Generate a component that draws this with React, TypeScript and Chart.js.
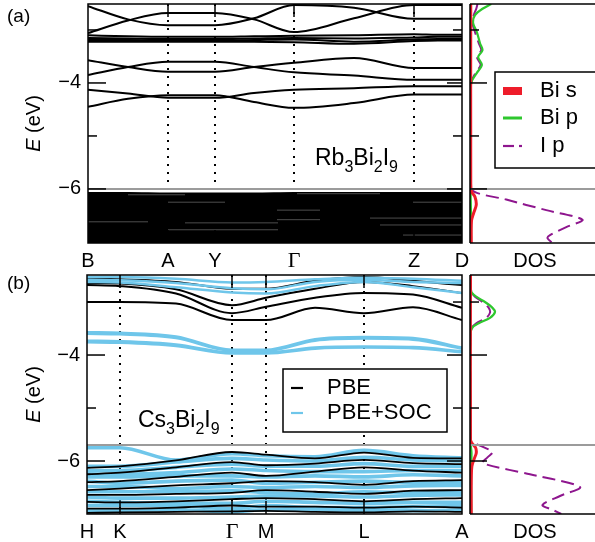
import React, { useEffect, useRef } from "react";
import { Chart, registerables } from "chart.js";

Chart.register(...registerables);

const CW = 595;
const CH = 542;
const SANS = '"Liberation Sans", Arial, Helvetica, sans-serif';
const SERIF = '"Liberation Serif", "Times New Roman", serif';

const BLACK = "#000000";
const SOC_BLUE = "#6fc6ea";
const BI_S_RED = "#ee1c2a";
const BI_P_GREEN = "#2ec72e";
const I_P_PURPLE = "#8e168e";
const GRAY = "#9b9b9b";

// ---------------- shared axis text ----------------
const eMajorTicks = [-4, -6];
const eMajorLabels = ["−4", "−6"];
const eMinorTicks = [-3, -5];
const eAxisTitle = ["E", " (eV)"];
const dosAxisLabel = "DOS";
const dosLegendLabels = ["Bi s", "Bi p", "I p"];
const bandLegendLabels = ["PBE", "PBE+SOC"];

// ---------------- (a) Rb3Bi2I9 ----------------
const topPanelLabel = "(a)";
const topCompound: [string, boolean][] = [["Rb", false], ["3", true], ["Bi", false], ["2", true], ["I", false], ["9", true]];
const topERange = [-7.02, -2.51];
const topKLabels = ["B", "A", "Y", "Γ", "Z", "D"];
const topKTicks = [0, 80, 127, 206, 326, 374];
const topKGrid = [0, 40, 80, 103, 127, 166, 206, 266, 326, 350, 374];
const topGapE = -6.0;

const topBand1 = [-2.55, -2.80, -2.91, -2.91, -2.91, -2.78, -2.53, -2.58, -2.79, -2.79, -2.79];
const topBand2 = [-3.06, -2.82, -2.68, -2.68, -2.68, -2.80, -3.04, -2.78, -2.53, -2.53, -2.53];
const topBand3 = [-3.10, -3.12, -3.13, -3.13, -3.13, -3.12, -3.11, -3.10, -3.08, -3.09, -3.09];
const topBand4 = [-3.15, -3.16, -3.17, -3.17, -3.17, -3.16, -3.15, -3.16, -3.14, -3.13, -3.13];
const topBand5 = [-3.19, -3.19, -3.20, -3.20, -3.20, -3.19, -3.18, -3.22, -3.18, -3.17, -3.17];
const topBand6 = [-3.22, -3.22, -3.22, -3.22, -3.22, -3.22, -3.23, -3.26, -3.21, -3.20, -3.20];
const topBand7 = [-3.57, -3.70, -3.79, -3.79, -3.79, -3.70, -3.62, -3.53, -3.72, -3.72, -3.72];
const topBand8 = [-3.85, -3.70, -3.60, -3.60, -3.60, -3.70, -3.80, -3.86, -3.94, -3.94, -3.94];
const topBand9 = [-4.13, -4.20, -4.28, -4.28, -4.28, -4.19, -4.13, -4.10, -4.06, -4.06, -4.06];
const topBand10 = [-4.45, -4.30, -4.23, -4.23, -4.23, -4.36, -4.47, -4.38, -4.22, -4.22, -4.22];
const topValenceTop = [-6.07, -6.07, -6.08, -6.08, -6.08, -6.08, -6.07, -6.07, -6.07, -6.07, -6.07];
// light gaps inside the dense valence manifold: [k start, k end, E]
const topValenceGaps: [number, number, number][] = [
  [40, 97, -6.11], [80, 137, -6.25], [0, 60, -6.62], [97, 190, -6.64], [80, 190, -6.77],
  [209, 292, -6.09], [325, 374, -6.25], [189, 232, -6.40], [189, 232, -6.58],
  [282, 374, -6.55], [292, 374, -6.68], [315, 374, -6.87],
];

// DOS (a)
const topBiSE = [-2.51, -5.9, -6.05, -6.15, -6.3, -6.45, -6.6, -7.02];
const topBiS = [0.006, 0.006, 0.012, 0.04, 0.05, 0.03, 0.012, 0.01];
const topBiPE = [-2.51, -2.6, -2.72, -2.87, -3.04, -3.25, -3.38, -3.51, -3.66, -3.81, -3.98, -4.2, -5.5, -6.0, -6.5, -7.02];
const topBiP = [0.17, 0.10, 0.04, 0.025, 0.055, 0.08, 0.10, 0.065, 0.095, 0.055, 0.012, 0.004, 0.003, 0.004, 0.008, 0.008];
const topIPE = [-2.51, -2.6, -2.72, -2.87, -3.04, -3.25, -3.38, -3.51, -3.66, -3.81, -3.98, -4.2, -5.5, -6.0, -6.2, -6.4, -6.58, -6.72, -6.87, -6.93, -7.02];
const topIP = [0.06, 0.05, 0.03, 0.02, 0.04, 0.07, 0.09, 0.055, 0.085, 0.045, 0.01, 0.003, 0.002, 0.003, 0.29, 0.61, 0.90, 0.77, 0.64, 0.62, 0.66];

// ---------------- (b) Cs3Bi2I9 ----------------
const botPanelLabel = "(b)";
const botCompound: [string, boolean][] = [["Cs", false], ["3", true], ["Bi", false], ["2", true], ["I", false], ["9", true]];
const botERange = [-7.0, -2.49];
const botKLabels = ["H", "K", "Γ", "M", "L", "A"];
const botKTicks = [0, 33, 145, 179, 277, 375];
const botKGrid = [0, 33, 89, 145, 179, 228, 277, 326, 375];
const botGapE = -5.7;

// PBE (black)
const pbeC1 = [-3.00, -3.00, -3.03, -3.34, -3.34, -3.11, -3.21, -3.10, -3.34];
const pbeC2 = [-2.68, -2.70, -2.84, -3.21, -3.09, -2.92, -2.83, -2.86, -3.11];
const pbeC3 = [-2.64, -2.65, -2.76, -3.06, -2.92, -2.75, -2.62, -2.70, -2.83];
const pbeC4 = [-2.56, -2.57, -2.62, -2.75, -2.75, -2.60, -2.53, -2.60, -2.68];
const pbeV1 = [-6.13, -6.10, -5.99, -5.83, -5.88, -5.95, -5.84, -5.94, -5.95];
const pbeV2 = [-6.25, -6.22, -6.12, -6.02, -6.08, -6.05, -5.98, -6.04, -6.06];
const pbeV3 = [-6.40, -6.38, -6.30, -6.22, -6.28, -6.20, -6.12, -6.18, -6.22];
const pbeV4 = [-6.55, -6.52, -6.46, -6.42, -6.38, -6.40, -6.45, -6.38, -6.36];
const pbeV5 = [-6.64, -6.64, -6.62, -6.60, -6.55, -6.58, -6.62, -6.56, -6.55];
const pbeV6 = [-6.77, -6.78, -6.76, -6.72, -6.70, -6.72, -6.76, -6.72, -6.70];
const pbeV7 = [-6.90, -6.90, -6.88, -6.84, -6.86, -6.86, -6.88, -6.86, -6.88];
const pbeV8 = [-6.98, -6.97, -6.96, -6.95, -6.94, -6.96, -6.97, -6.95, -6.96];

// PBE+SOC (blue)
const socC1 = [-3.57, -3.58, -3.65, -3.90, -3.90, -3.70, -3.66, -3.68, -3.86];
const socC2 = [-3.60, -3.61, -3.68, -3.92, -3.92, -3.73, -3.69, -3.71, -3.88];
const socC3 = [-3.73, -3.74, -3.80, -3.95, -3.95, -3.86, -3.84, -3.85, -3.93];
const socC4 = [-3.76, -3.77, -3.83, -3.97, -3.97, -3.88, -3.86, -3.87, -3.95];
const socC5 = [-2.53, -2.53, -2.56, -2.63, -2.62, -2.57, -2.54, -2.56, -2.60];
const socC6 = [-2.58, -2.59, -2.64, -2.74, -2.76, -2.62, -2.58, -2.62, -2.64];
const socC7 = [-2.62, -2.63, -2.72, -2.82, -2.84, -2.70, -2.62, -2.72, -2.83];
const socV1 = [-5.75, -5.75, -5.98, -5.86, -5.90, -5.92, -5.80, -5.90, -5.94];
const socV2 = [-6.10, -6.10, -6.02, -5.95, -5.98, -6.00, -5.93, -5.98, -6.00];
const socV3 = [-6.18, -6.18, -6.12, -6.06, -6.10, -6.10, -6.05, -6.10, -6.10];
const socV4 = [-6.24, -6.25, -6.22, -6.15, -6.18, -6.20, -6.20, -6.18, -6.18];
const socV5 = [-6.30, -6.30, -6.28, -6.28, -6.30, -6.28, -6.30, -6.26, -6.28];
const socV6 = [-6.38, -6.42, -6.38, -6.36, -6.42, -6.40, -6.38, -6.40, -6.40];
const socV7 = [-6.48, -6.48, -6.52, -6.48, -6.50, -6.48, -6.50, -6.47, -6.46];
const socV8 = [-6.58, -6.58, -6.58, -6.56, -6.60, -6.62, -6.58, -6.60, -6.60];
const socV9 = [-6.68, -6.70, -6.70, -6.68, -6.66, -6.66, -6.68, -6.65, -6.64];
const socV10 = [-6.76, -6.78, -6.80, -6.80, -6.76, -6.78, -6.80, -6.78, -6.78];
const socV11 = [-6.84, -6.84, -6.84, -6.90, -6.84, -6.88, -6.88, -6.86, -6.84];
const socV12 = [-6.94, -6.93, -6.92, -6.96, -6.92, -6.92, -6.94, -6.94, -6.92];

// DOS (b)
const botBiSE = [-2.49, -5.6, -5.66, -5.75, -5.85, -5.95, -6.1, -6.4, -7.0];
const botBiS = [0.004, 0.004, 0.015, 0.045, 0.05, 0.035, 0.015, 0.01, 0.01];
const botBiPE = [-2.49, -2.8, -2.9, -3.0, -3.11, -3.19, -3.30, -3.40, -3.48, -3.6, -5.0, -5.7, -5.85, -6.2, -7.0];
const botBiP = [0.004, 0.01, 0.05, 0.12, 0.18, 0.20, 0.16, 0.07, 0.02, 0.004, 0.003, 0.006, 0.012, 0.008, 0.01];
const botIPE = [-2.49, -2.8, -2.9, -3.0, -3.11, -3.2, -3.3, -3.4, -3.5, -3.6, -5.0, -5.6, -5.72, -5.83, -5.93, -6.04, -6.25, -6.49, -6.66, -6.83, -6.92, -7.0];
const botIP = [0.003, 0.01, 0.04, 0.10, 0.15, 0.16, 0.13, 0.05, 0.01, 0.003, 0.002, 0.004, 0.09, 0.18, 0.14, 0.10, 0.48, 0.88, 0.72, 0.58, 0.66, 0.73];

// ---------------- helpers ----------------
function bandDs(grid: number[], vals: number[], color: string, width: number, order: number, extra: any = {}) {
  return {
    data: grid.map((k, i) => ({ x: k, y: vals[i] })),
    borderColor: color,
    backgroundColor: color,
    borderWidth: width,
    pointRadius: 0,
    pointHoverRadius: 0,
    cubicInterpolationMode: "monotone",
    fill: false,
    order,
    ...extra,
  };
}

function dosDs(E: number[], D: number[], color: string, width: number, order: number, dash: number[] = []) {
  return {
    data: E.map((e, i) => ({ x: D[i], y: e })),
    borderColor: color,
    borderWidth: width,
    borderDash: dash,
    pointRadius: 0,
    pointHoverRadius: 0,
    tension: 0.3,
    fill: false,
    order,
  };
}

function seg(ctx: CanvasRenderingContext2D, x1: number, y1: number, x2: number, y2: number) {
  ctx.beginPath();
  ctx.moveTo(x1, y1);
  ctx.lineTo(x2, y2);
  ctx.stroke();
}

function drawCompound(ctx: CanvasRenderingContext2D, parts: [string, boolean][], x: number, baseline: number) {
  let cx = x;
  ctx.textAlign = "left";
  ctx.textBaseline = "alphabetic";
  ctx.fillStyle = BLACK;
  for (const [t, sub] of parts) {
    ctx.font = `${sub ? 16 : 23}px ${SANS}`;
    ctx.fillText(t, cx, sub ? baseline + 7 : baseline);
    cx += ctx.measureText(t).width;
  }
}

function baseOptions(padding: any, xMin: number, xMax: number, eRange: number[]) {
  return {
    animation: false,
    responsive: false,
    devicePixelRatio: 1,
    events: [],
    layout: { padding },
    scales: {
      x: { type: "linear", display: false, min: xMin, max: xMax },
      y: { type: "linear", display: false, min: eRange[0], max: eRange[1] },
    },
    plugins: { legend: { display: false }, tooltip: { enabled: false } },
  };
}

function bandDecor(cfg: {
  kTicks: number[]; kLabels: string[]; gapE: number; panelLabel: string; panelY: number;
  compound: [string, boolean][]; compoundX: number; compoundY: number; legend: boolean;
}) {
  return {
    id: "bandDecor",
    beforeDatasetsDraw(chart: any) {
      const { ctx, chartArea: a } = chart;
      const xs = chart.scales.x;
      ctx.save();
      ctx.strokeStyle = BLACK;
      ctx.lineWidth = 2;
      ctx.setLineDash([2, 6]);
      for (let i = 1; i < cfg.kTicks.length - 1; i++) {
        const px = Math.round(xs.getPixelForValue(cfg.kTicks[i]));
        seg(ctx, px, a.top, px, a.bottom);
      }
      ctx.restore();
    },
    afterDatasetsDraw(chart: any) {
      const { ctx, chartArea: a } = chart;
      const xs = chart.scales.x;
      const ys = chart.scales.y;
      ctx.save();
      ctx.setLineDash([]);
      const gy = ys.getPixelForValue(cfg.gapE);
      ctx.strokeStyle = GRAY;
      ctx.lineWidth = 2;
      seg(ctx, a.left, gy, a.right, gy);
      ctx.strokeStyle = BLACK;
      ctx.lineWidth = 1.5;
      ctx.strokeRect(a.left, a.top, a.right - a.left, a.bottom - a.top);
      for (const v of eMajorTicks) {
        const py = ys.getPixelForValue(v);
        seg(ctx, a.left, py, a.left + 18, py);
        seg(ctx, a.right - 15, py, a.right, py);
      }
      for (const v of eMinorTicks) {
        const py = ys.getPixelForValue(v);
        seg(ctx, a.left, py, a.left + 9, py);
        seg(ctx, a.right - 9, py, a.right, py);
      }
      for (let i = 1; i < cfg.kTicks.length - 1; i++) {
        const px = Math.round(xs.getPixelForValue(cfg.kTicks[i]));
        seg(ctx, px, a.top, px, a.top + 13);
        seg(ctx, px, a.bottom - 13, px, a.bottom);
      }
      ctx.fillStyle = BLACK;
      ctx.font = `20px ${SANS}`;
      ctx.textAlign = "right";
      ctx.textBaseline = "middle";
      eMajorTicks.forEach((v, i) => ctx.fillText(eMajorLabels[i], a.left - 7, ys.getPixelForValue(v)));
      ctx.textAlign = "center";
      cfg.kLabels.forEach((lab, i) => {
        ctx.font = lab === "Γ" ? `22px ${SERIF}` : `20px ${SANS}`;
        ctx.fillText(lab, xs.getPixelForValue(cfg.kTicks[i]), a.bottom + 18);
      });
      ctx.save();
      ctx.translate(34, (a.top + a.bottom) / 2);
      ctx.rotate(-Math.PI / 2);
      ctx.font = `italic 20px ${SANS}`;
      const w0 = ctx.measureText(eAxisTitle[0]).width;
      ctx.font = `20px ${SANS}`;
      const w1 = ctx.measureText(eAxisTitle[1]).width;
      ctx.textAlign = "left";
      ctx.textBaseline = "middle";
      ctx.font = `italic 20px ${SANS}`;
      ctx.fillText(eAxisTitle[0], -(w0 + w1) / 2, 0);
      ctx.font = `20px ${SANS}`;
      ctx.fillText(eAxisTitle[1], -(w0 + w1) / 2 + w0, 0);
      ctx.restore();
      ctx.font = `19px ${SANS}`;
      ctx.textAlign = "left";
      ctx.textBaseline = "middle";
      ctx.fillText(cfg.panelLabel, 7, cfg.panelY);
      drawCompound(ctx, cfg.compound, cfg.compoundX, cfg.compoundY);
      if (cfg.legend) {
        ctx.fillStyle = "#ffffff";
        ctx.fillRect(283, 369, 164, 63);
        ctx.strokeStyle = BLACK;
        ctx.lineWidth = 1.5;
        ctx.strokeRect(283, 369, 164, 63);
        const rows = [388, 413];
        const cols = [BLACK, SOC_BLUE];
        bandLegendLabels.forEach((lab, i) => {
          ctx.strokeStyle = cols[i];
          ctx.lineWidth = 2.2;
          seg(ctx, 291, rows[i], 303, rows[i]);
          ctx.fillStyle = BLACK;
          ctx.font = `22px ${SANS}`;
          ctx.textAlign = "left";
          ctx.textBaseline = "middle";
          ctx.fillText(lab, 327, rows[i]);
        });
      }
      ctx.restore();
    },
  };
}

function dosDecor(cfg: { gapE: number; legend: boolean }) {
  return {
    id: "dosDecor",
    afterDatasetsDraw(chart: any) {
      const { ctx, chartArea: a } = chart;
      const ys = chart.scales.y;
      ctx.save();
      ctx.setLineDash([]);
      const gy = ys.getPixelForValue(cfg.gapE);
      ctx.strokeStyle = GRAY;
      ctx.lineWidth = 2;
      seg(ctx, a.left, gy, a.right, gy);
      ctx.strokeStyle = BLACK;
      ctx.lineWidth = 1.5;
      seg(ctx, a.left, a.top, a.left, a.bottom);
      seg(ctx, a.left, a.top, a.right + 2, a.top);
      seg(ctx, a.left, a.bottom, a.right + 2, a.bottom);
      for (const v of eMajorTicks) {
        const py = ys.getPixelForValue(v);
        seg(ctx, a.left, py, a.left + 17, py);
      }
      for (const v of eMinorTicks) {
        const py = ys.getPixelForValue(v);
        seg(ctx, a.left, py, a.left + 9, py);
      }
      ctx.fillStyle = BLACK;
      ctx.font = `20px ${SANS}`;
      ctx.textAlign = "center";
      ctx.textBaseline = "middle";
      ctx.fillText(dosAxisLabel, 535, a.bottom + 18);
      if (cfg.legend) {
        ctx.fillStyle = "#ffffff";
        ctx.fillRect(495, 72, 110, 96);
        ctx.strokeStyle = BLACK;
        ctx.lineWidth = 1.5;
        ctx.strokeRect(495, 72, 110, 96);
        const rows = [91, 118, 146];
        ctx.fillStyle = BI_S_RED;
        ctx.fillRect(503, rows[0] - 4, 19, 8);
        ctx.strokeStyle = BI_P_GREEN;
        ctx.lineWidth = 3;
        seg(ctx, 503, rows[1], 522, rows[1]);
        ctx.strokeStyle = I_P_PURPLE;
        ctx.lineWidth = 2.2;
        seg(ctx, 503, rows[2], 514, rows[2]);
        seg(ctx, 519, rows[2], 522, rows[2]);
        ctx.fillStyle = BLACK;
        ctx.font = `22px ${SANS}`;
        ctx.textAlign = "left";
        ctx.textBaseline = "middle";
        dosLegendLabels.forEach((lab, i) => ctx.fillText(lab, 540, rows[i]));
      }
      ctx.restore();
    },
  };
}

function makeTopBands(canvas: HTMLCanvasElement) {
  const lines = [topBand1, topBand2, topBand3, topBand4, topBand5, topBand6, topBand7, topBand8, topBand9, topBand10];
  const datasets: any[] = lines.map((b) => bandDs(topKGrid, b, BLACK, 2, 1));
  datasets.push(bandDs(topKGrid, topValenceTop, BLACK, 1.5, 3, { fill: "start", backgroundColor: BLACK }));
  topValenceGaps.forEach((g) =>
    datasets.push({
      data: [{ x: g[0], y: g[2] }, { x: g[1], y: g[2] }],
      borderColor: "rgba(255,255,255,0.3)",
      borderWidth: 1,
      pointRadius: 0,
      fill: false,
      order: 2,
    })
  );
  return new Chart(canvas, {
    type: "line",
    data: { datasets },
    options: baseOptions({ left: 88, right: CW - 462, top: 4, bottom: CH - 243 }, 0, 374, topERange) as any,
    plugins: [
      bandDecor({
        kTicks: topKTicks, kLabels: topKLabels, gapE: topGapE, panelLabel: topPanelLabel, panelY: 17,
        compound: topCompound, compoundX: 315, compoundY: 165, legend: false,
      }),
    ],
  });
}

function makeTopDos(canvas: HTMLCanvasElement) {
  const datasets = [
    dosDs(topIPE, topIP, I_P_PURPLE, 2, 3, [13, 6]),
    dosDs(topBiPE, topBiP, BI_P_GREEN, 2.2, 2),
    dosDs(topBiSE, topBiS, BI_S_RED, 3, 1),
  ];
  return new Chart(canvas, {
    type: "line",
    data: { datasets } as any,
    options: baseOptions({ left: 470, right: 0, top: 4, bottom: CH - 243 }, 0, 1, topERange) as any,
    plugins: [dosDecor({ gapE: topGapE, legend: true })],
  });
}

function makeBotBands(canvas: HTMLCanvasElement) {
  const datasets: any[] = [];
  [pbeC1, pbeC2, pbeC3, pbeC4].forEach((b) => datasets.push(bandDs(botKGrid, b, BLACK, 2, 3)));
  [socC1, socC2, socC3, socC4, socC5, socC6, socC7].forEach((b) => datasets.push(bandDs(botKGrid, b, SOC_BLUE, 2.5, 2)));
  [socV1, socV2, socV3, socV4, socV5, socV6, socV7, socV8, socV9, socV10, socV11, socV12].forEach((b) =>
    datasets.push(bandDs(botKGrid, b, SOC_BLUE, 3.6, 4))
  );
  [pbeV1, pbeV2, pbeV3, pbeV4, pbeV5, pbeV6, pbeV7, pbeV8].forEach((b) => datasets.push(bandDs(botKGrid, b, BLACK, 1.8, 1)));
  return new Chart(canvas, {
    type: "line",
    data: { datasets },
    options: baseOptions({ left: 87, right: CW - 462, top: 275, bottom: CH - 514 }, 0, 375, botERange) as any,
    plugins: [
      bandDecor({
        kTicks: botKTicks, kLabels: botKLabels, gapE: botGapE, panelLabel: botPanelLabel, panelY: 284,
        compound: botCompound, compoundX: 138, compoundY: 427, legend: true,
      }),
    ],
  });
}

function makeBotDos(canvas: HTMLCanvasElement) {
  const datasets = [
    dosDs(botIPE, botIP, I_P_PURPLE, 2, 3, [13, 6]),
    dosDs(botBiPE, botBiP, BI_P_GREEN, 2.2, 2),
    dosDs(botBiSE, botBiS, BI_S_RED, 3, 1),
  ];
  return new Chart(canvas, {
    type: "line",
    data: { datasets } as any,
    options: baseOptions({ left: 470, right: 0, top: 275, bottom: CH - 514 }, 0, 1, botERange) as any,
    plugins: [dosDecor({ gapE: botGapE, legend: false })],
  });
}

export default function App() {
  const r1 = useRef<HTMLCanvasElement>(null);
  const r2 = useRef<HTMLCanvasElement>(null);
  const r3 = useRef<HTMLCanvasElement>(null);
  const r4 = useRef<HTMLCanvasElement>(null);

  useEffect(() => {
    const charts = [
      makeTopBands(r1.current as HTMLCanvasElement),
      makeTopDos(r2.current as HTMLCanvasElement),
      makeBotBands(r3.current as HTMLCanvasElement),
      makeBotDos(r4.current as HTMLCanvasElement),
    ];
    return () => charts.forEach((c) => c.destroy());
  }, []);

  const cs: React.CSSProperties = { position: "absolute", left: 0, top: 0 };
  return (
    <div style={{ position: "absolute", left: 0, top: 0, width: CW, height: CH, background: "#ffffff", overflow: "hidden" }}>
      <canvas ref={r1} width={CW} height={CH} style={cs} />
      <canvas ref={r2} width={CW} height={CH} style={cs} />
      <canvas ref={r3} width={CW} height={CH} style={cs} />
      <canvas ref={r4} width={CW} height={CH} style={cs} />
    </div>
  );
}
